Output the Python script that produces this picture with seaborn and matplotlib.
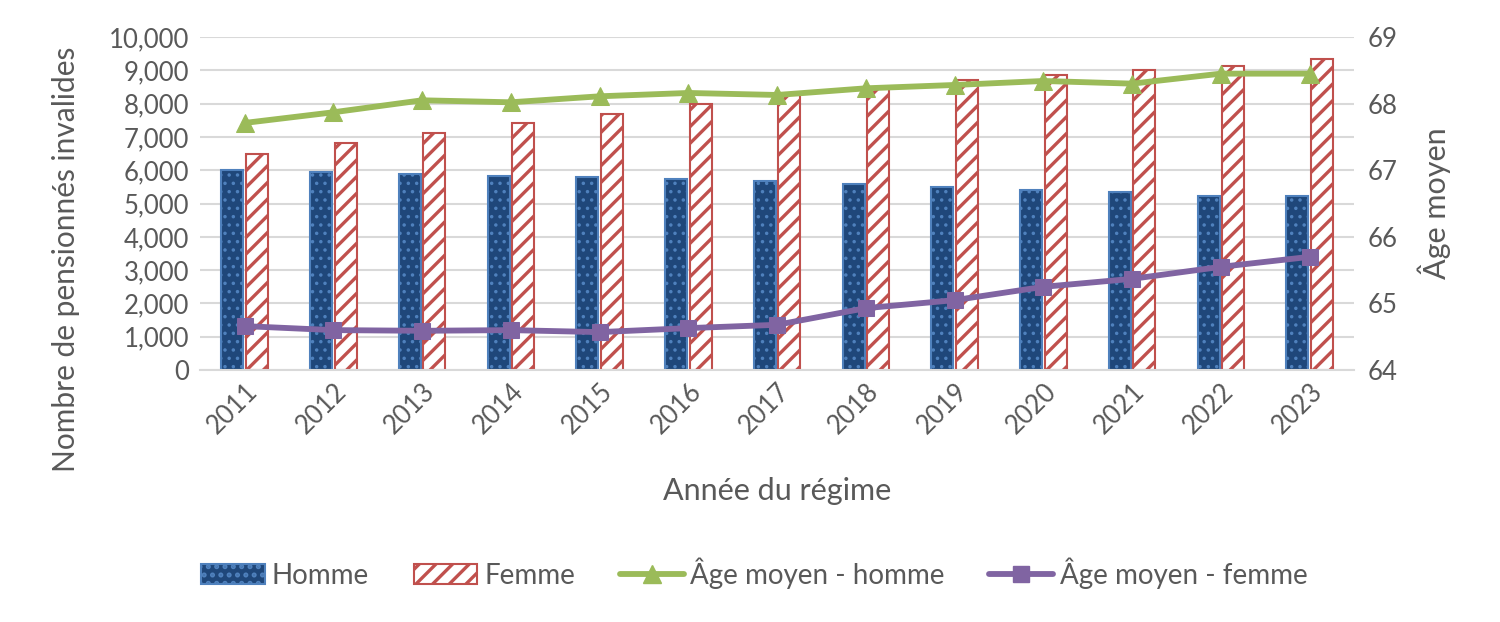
import numpy as np
import pandas as pd
import matplotlib
matplotlib.use("Agg")
import matplotlib.pyplot as plt
import seaborn as sns
from matplotlib.patches import Patch
from matplotlib.lines import Line2D
from matplotlib.ticker import FuncFormatter

years = ["2011", "2012", "2013", "2014", "2015", "2016", "2017",
         "2018", "2019", "2020", "2021", "2022", "2023"]
homme = [6000, 5950, 5880, 5820, 5790, 5730, 5680, 5590, 5490, 5400, 5350, 5230, 5230]
femme = [6500, 6810, 7110, 7410, 7690, 7990, 8260, 8470, 8710, 8860, 9010, 9140, 9340]
age_homme = [67.71, 67.87, 68.05, 68.02, 68.11, 68.16, 68.13, 68.23, 68.28, 68.34, 68.30, 68.45, 68.45]
age_femme = [64.66, 64.60, 64.59, 64.60, 64.57, 64.63, 64.68, 64.93, 65.05, 65.25, 65.37, 65.55, 65.70]

BLUE = "#1F477A"
BLUE_EDGE = "#4F81BD"
RED = "#C0504D"
GREEN = "#9BBB59"
PURPLE = "#8064A2"
GRID = "#D9D9D9"
TXT = "#595959"

sns.set_theme(style="white")
plt.rcParams["font.family"] = ["Lato", "DejaVu Sans"]
plt.rcParams["hatch.linewidth"] = 2.4

fig, ax = plt.subplots(figsize=(15, 6.22), dpi=100)
fig.subplots_adjust(left=0.1335, right=0.9027, top=0.9405, bottom=0.405)

df = pd.DataFrame({
    "year": years * 2,
    "value": homme + femme,
    "sexe": ["Homme"] * len(years) + ["Femme"] * len(years),
})
sns.barplot(data=df, x="year", y="value", hue="sexe",
            palette={"Homme": BLUE, "Femme": "white"},
            width=0.55, gap=0.1, ax=ax, legend=False, zorder=2)

n = len(years)
for i, p in enumerate(ax.patches[:2 * n]):
    if i < n:
        p.set_facecolor(BLUE)
        p.set_edgecolor(BLUE_EDGE)
        p.set_linewidth(1.5)
        p.set_hatch("..")
        if hasattr(p, "set_hatchcolor"):
            p.set_hatchcolor("white")
        if hasattr(p, "set_hatch_linewidth"):
            p.set_hatch_linewidth(1.3)
    else:
        p.set_facecolor("white")
        p.set_edgecolor(RED)
        p.set_linewidth(1.5)
        p.set_hatch("//")
        if hasattr(p, "set_hatchcolor"):
            p.set_hatchcolor(RED)

ax.set_ylim(0, 10000)
ax.set_yticks(np.arange(0, 10001, 1000))
ax.yaxis.set_major_formatter(FuncFormatter(lambda v, _: f"{int(v):,}"))
ax.grid(axis="y", color=GRID, linewidth=1.5, zorder=0)
ax.set_axisbelow(True)
for s in ["top", "left", "right"]:
    ax.spines[s].set_visible(False)
ax.spines["bottom"].set_color(GRID)
ax.spines["bottom"].set_linewidth(1.5)
ax.tick_params(axis="y", labelsize=18.5, colors=TXT, length=0, pad=8)
ax.tick_params(axis="x", labelsize=18.5, colors=TXT, length=0, pad=6)
plt.setp(ax.get_xticklabels(), rotation=45, ha="right", rotation_mode="anchor")
ax.set_xlabel("Année du régime", fontsize=22, color=TXT, labelpad=28)
ax.set_ylabel("Nombre de pensionnés invalides", fontsize=21.5, color=TXT)
ax.yaxis.set_label_coords(-0.104, 0.333)

ax2 = ax.twinx()
x = np.arange(n)
sns.lineplot(x=x, y=age_homme, ax=ax2, color=GREEN, linewidth=4.2,
             marker="^", markersize=13, markeredgecolor=GREEN, zorder=3)
sns.lineplot(x=x, y=age_femme, ax=ax2, color=PURPLE, linewidth=4.2,
             marker="s", markersize=12, markeredgecolor=PURPLE, zorder=3)
ax2.set_ylim(64, 69)
ax2.set_yticks(np.arange(64, 70, 1))
ax2.tick_params(axis="y", labelsize=18.5, colors=TXT, length=0, pad=10)
for s in ["top", "left", "right", "bottom"]:
    ax2.spines[s].set_visible(False)
ax2.set_ylabel("Âge moyen", fontsize=22, color=TXT, labelpad=14)
ax.set_xlim(-0.5, n - 0.5)

h_homme = Patch(facecolor=BLUE, edgecolor=BLUE_EDGE, hatch="..", linewidth=1.5)
h_femme = Patch(facecolor="white", edgecolor=RED, hatch="//", linewidth=1.5)
if hasattr(h_homme, "set_hatchcolor"):
    h_homme.set_hatchcolor("white")
    h_femme.set_hatchcolor(RED)
if hasattr(h_homme, "set_hatch_linewidth"):
    h_homme.set_hatch_linewidth(1.3)
h_ah = Line2D([0], [0], color=GREEN, linewidth=4.2, marker="^", markersize=13)
h_af = Line2D([0], [0], color=PURPLE, linewidth=4.2, marker="s", markersize=12)
leg = fig.legend([h_homme, h_femme, h_ah, h_af],
                 ["Homme", "Femme", "Âge moyen - homme", "Âge moyen - femme"],
                 loc="center", bbox_to_anchor=(0.503, 0.079), ncol=4,
                 frameon=False, fontsize=20, handlelength=2.3, handleheight=0.75,
                 columnspacing=1.6, handletextpad=0.25)
for t in leg.get_texts():
    t.set_color(TXT)

fig.savefig("out.png", dpi=100)
